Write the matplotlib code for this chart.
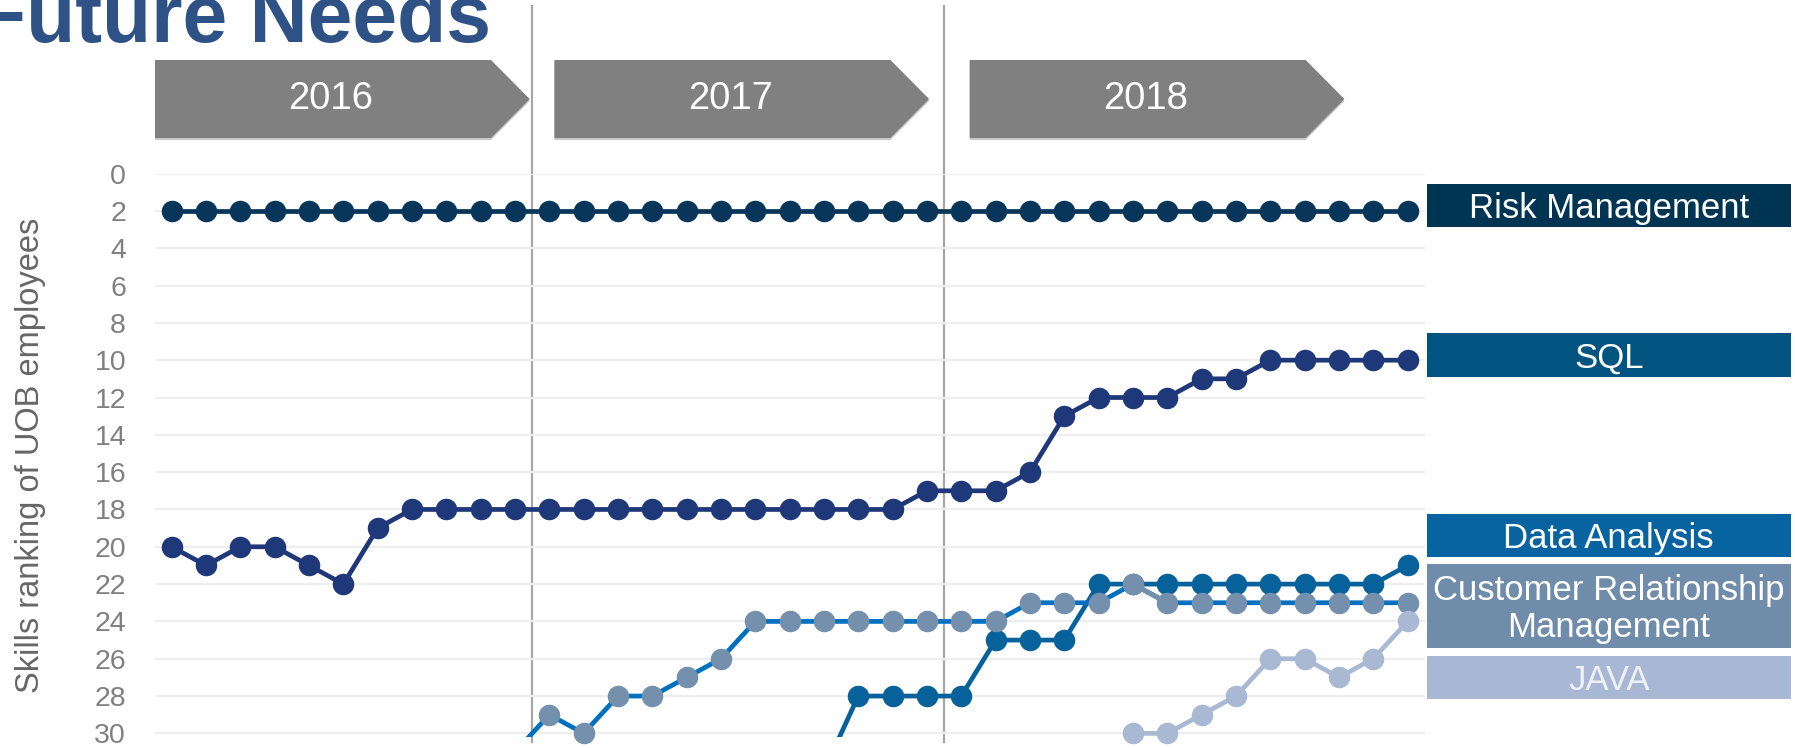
import matplotlib
matplotlib.use('Agg')
import matplotlib.pyplot as plt
import numpy as np
from matplotlib.patches import Polygon, Rectangle

plt.rcParams['font.family'] = ['Liberation Sans', 'DejaVu Sans']

# ---------------- data ----------------
nan = np.nan
months = list(range(37))
years = ['2016', '2017', '2018']
year_dividers = [10.5, 22.5]

risk_management = [2] * 37
sql = [20, 21, 20, 20, 21, 22, 19, 18, 18, 18, 18,
       18, 18, 18, 18, 18, 18, 18, 18, 18, 18, 18, 17,
       17, 17, 16, 13, 12, 12, 12, 11, 11, 10, 10, 10, 10, 10]
data_analysis = [nan] * 19 + [32, 28, 28, 28,
                              28, 25, 25, 25, 22, 22, 22, 22, 22, 22, 22, 22, 22, 21]
crm = [nan] * 10 + [31,
                    29, 30, 28, 28, 27, 26, 24, 24, 24, 24, 24, 24,
                    24, 24, 23, 23, 23, 22, 23, 23, 23, 23, 23, 23, 23, 23]
java = [nan] * 28 + [30, 30, 29, 28, 26, 26, 27, 26, 24]

labels = ['Risk Management', 'SQL', 'Data Analysis',
          'Customer Relationship\nManagement', 'JAVA']
yticks = list(range(0, 31, 2))

# ---------------- figure ----------------
W, H = 1795, 748
fig = plt.figure(figsize=(W / 100, H / 100), dpi=100)


def fx(px):
    return px / W


def fy(py):
    return 1 - py / H


ax_left, ax_right = 154.5, 1424.8
ax_top, ax_bot = 173.6, 737.1
ax = fig.add_axes([fx(ax_left), fy(ax_bot), (ax_right - ax_left) / W, (ax_bot - ax_top) / H])
ax.set_xlim(-0.5, 36.5)
ax.set_ylim(30.2, 0)
ax.set_yticks(yticks)
ax.set_xticks([])
for s in ax.spines.values():
    s.set_visible(False)
ax.yaxis.grid(True, color='#EEEEEE', lw=1.6)
ax.set_axisbelow(True)
ax.tick_params(axis='y', length=0, pad=20.5, labelsize=20.5, labelcolor='#808080')
ax.set_ylabel('Skills ranking of UOB employees', fontsize=23.5, color='#666666')
ax.yaxis.label.set_verticalalignment('center')
ax.yaxis.set_label_coords((31 - ax_left) / (ax_right - ax_left), 0.5)

LW = 3.4
MS = 15.5


def series(vals, line_color, marker_color):
    v = np.array(vals, dtype=float)
    ax.plot(months, v, color=line_color, lw=LW, solid_capstyle='butt')
    mv = np.where(v <= 30, v, np.nan)
    ax.plot(months, mv, ls='none', marker='o', ms=MS, color=marker_color,
            markeredgewidth=0, clip_on=False)


series(risk_management, '#07365A', '#07365A')
series(sql, '#1F3879', '#1F3879')
series(data_analysis, '#07629C', '#07629C')

# CRM: bright blue line with one grey segment, grey markers
crm_arr = np.array(crm, dtype=float)
ax.plot(months, crm_arr, color='#0070C0', lw=LW)
ax.plot(months[28:30], crm_arr[28:30], color='#7490AD', lw=LW)
ax.plot(months, np.where(crm_arr <= 30, crm_arr, np.nan), ls='none', marker='o',
        ms=MS, color='#7490AD', markeredgewidth=0, clip_on=False)

series(java, '#A9B9D4', '#A9B9D4')

# year dividers
y_lo = (ax_bot - 742) / (ax_bot - ax_top)
y_hi = (ax_bot - 6) / (ax_bot - ax_top)
for d in year_dividers:
    ax.axvline(d, ymin=y_lo, ymax=y_hi, color='#A6A6A6', lw=1.6, clip_on=False, zorder=0.5)

# chevrons
chev_left = [155, 554.4, 969.7]
body_w, tip_w = 336, 38.7
top, bot, mid = 60, 138, 99
for left, yr in zip(chev_left, years):
    pts = [(left, top), (left + body_w, top), (left + body_w + tip_w, mid),
           (left + body_w, bot), (left, bot)]
    shadow = Polygon([(fx(x), fy(y + 2)) for x, y in pts], closed=True,
                     transform=fig.transFigure, facecolor='#C8C8C8', edgecolor='none')
    fig.patches.append(shadow)
    poly = Polygon([(fx(x), fy(y)) for x, y in pts], closed=True,
                   transform=fig.transFigure, facecolor='#808080', edgecolor='none')
    fig.patches.append(poly)
    fig.text(fx(left + body_w / 2 + 8), fy(mid), yr, ha='center', va='center',
             fontsize=27.5, color='white')

# title (cut off at the top-left like the reference)
fig.text(fx(491), fy(41.7), 'Future Needs', ha='right', va='baseline',
         fontsize=58, fontweight='bold', color='#2F5286')

# right-hand label boxes
box_x0, box_x1 = 1426.7, 1790.7
box_y = [(184.3, 227.1), (333.2, 376.8), (514.3, 557.1), (564.3, 648.2), (656.4, 699.3)]
box_colors = ['#003453', '#00547F', '#0764A0', '#6F8CAA', '#A8B8D4']
text_colors = ['white', 'white', 'white', 'white', '#EEF1F7']
for lab, (y0, y1), bc, tc in zip(labels, box_y, box_colors, text_colors):
    r = Rectangle((fx(box_x0), fy(y1)), (box_x1 - box_x0) / W, (y1 - y0) / H,
                  transform=fig.transFigure, facecolor=bc, edgecolor='none')
    fig.patches.append(r)
    fig.text(fx((box_x0 + box_x1) / 2), fy((y0 + y1) / 2 + 3), lab, ha='center', va='center',
             fontsize=25, color=tc, linespacing=1.15)

fig.savefig('out.png', dpi=100)
